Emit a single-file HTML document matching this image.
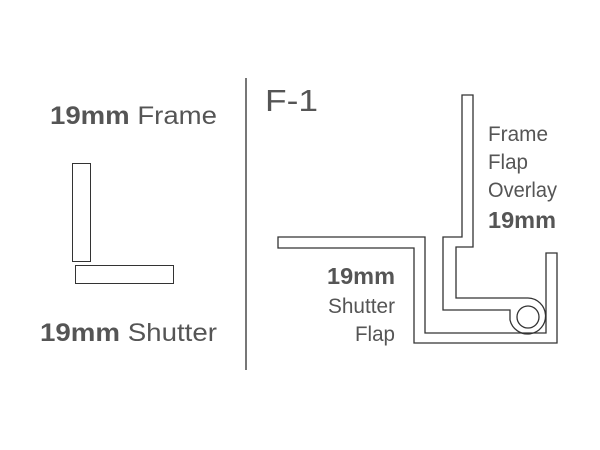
<!DOCTYPE html>
<html><head><style>
html,body{margin:0;padding:0;background:#fff;}
svg{display:block;}
text{font-family:"Liberation Sans",sans-serif;fill:#555;}
</style></head><body>
<svg width="600" height="450" viewBox="0 0 600 450">
<line x1="246" y1="78" x2="246" y2="370" stroke="#777" stroke-width="2"/>
<rect x="72.5" y="163.5" width="18" height="98" fill="none" stroke="#333" stroke-width="1"/>
<rect x="75.5" y="265.5" width="98" height="18" fill="none" stroke="#333" stroke-width="1"/>
<text x="50" y="124" font-size="25" textLength="167" lengthAdjust="spacingAndGlyphs"><tspan font-weight="bold">19mm</tspan> Frame</text>
<text x="40" y="341" font-size="25" textLength="177" lengthAdjust="spacingAndGlyphs"><tspan font-weight="bold">19mm</tspan> Shutter</text>
<text x="265" y="111" font-size="31" textLength="53" lengthAdjust="spacingAndGlyphs">F-1</text>
<g fill="none" stroke="#333" stroke-width="1.3">
<path d="M510,310 L443,310 L443,237 L462,237 L462,95 L473,95 L473,247 L456,247 L456,298 L528,298 A18,18 0 1 1 510,320 Z"/>
<circle cx="528" cy="317" r="11"/>
<path d="M546,333 L425,333 L425,237 L278,237 L278,248 L414,248 L414,343 L557,343 L557,253 L546,253 Z"/>
</g>
<g font-size="21">
<text x="488" y="141" textLength="60" lengthAdjust="spacingAndGlyphs">Frame</text>
<text x="488" y="169" textLength="40" lengthAdjust="spacingAndGlyphs">Flap</text>
<text x="488" y="197" textLength="69" lengthAdjust="spacingAndGlyphs">Overlay</text>
<text x="488" y="228" font-weight="bold" font-size="23" textLength="68" lengthAdjust="spacingAndGlyphs">19mm</text>
<text x="327" y="284" font-weight="bold" font-size="23" textLength="68" lengthAdjust="spacingAndGlyphs">19mm</text>
<text x="328" y="313" textLength="67" lengthAdjust="spacingAndGlyphs">Shutter</text>
<text x="355" y="341" textLength="40" lengthAdjust="spacingAndGlyphs">Flap</text>
</g>
</svg>
</body></html>
